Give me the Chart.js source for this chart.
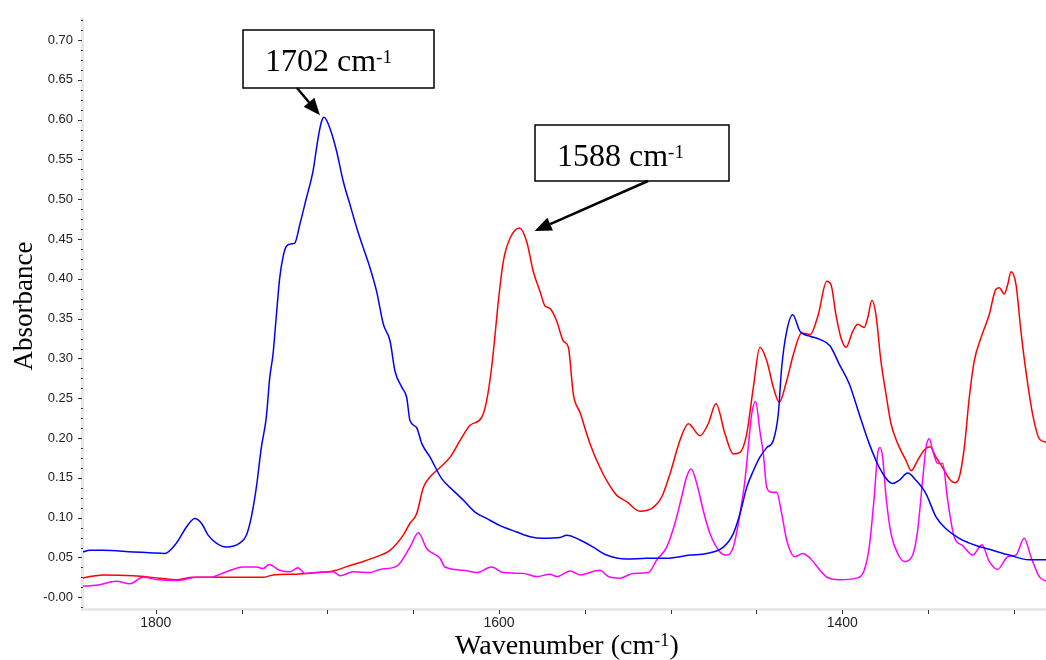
<!DOCTYPE html>
<html>
<head>
<meta charset="utf-8">
<script src="https://cdn.jsdelivr.net/npm/chart.js@4.4.1/dist/chart.umd.min.js"></script>
<style>
  html, body { margin: 0; padding: 0; background: #ffffff; }
  #wrap { width: 1046px; height: 660px; position: relative; }
</style>
</head>
<body>
<div id="wrap"><canvas id="spectrum" width="1046" height="660"></canvas></div>
<script>
// IR spectra: [wavenumber (cm-1), absorbance]
const blueSpectrum = [
  [1842.4,0.057],[1838.5,0.059],[1830.7,0.059],[1813.2,0.057],[1803.5,0.056],[1794.8,0.055],
  [1788.0,0.068],[1782.2,0.088],[1777.3,0.099],[1773.4,0.093],[1769.5,0.078],[1764.7,0.068],
  [1758.9,0.063],[1751.1,0.068],[1747.2,0.078],[1744.3,0.101],[1741.4,0.138],[1738.5,0.188],
  [1735.6,0.226],[1733.6,0.276],[1731.7,0.305],[1729.7,0.355],[1727.8,0.401],[1725.8,0.428],
  [1723.9,0.441],[1721.0,0.444],[1719.0,0.445],[1716.1,0.468],[1712.3,0.501],[1708.4,0.535],
  [1705.5,0.576],[1703.5,0.597],[1702.0,0.603],[1697.7,0.584],[1694.6,0.560],[1690.7,0.522],
  [1686.8,0.493],[1682.9,0.464],[1679.1,0.439],[1675.2,0.414],[1671.3,0.384],[1667.4,0.343],
  [1663.5,0.322],[1660.6,0.284],[1656.7,0.264],[1653.8,0.251],[1651.9,0.222],[1648.0,0.213],
  [1645.0,0.193],[1640.2,0.176],[1633.4,0.149],[1626.6,0.134],[1620.8,0.122],[1614.0,0.107],
  [1607.2,0.099],[1599.4,0.090],[1589.7,0.082],[1581.9,0.076],[1574.2,0.074],[1564.5,0.075],
  [1560.6,0.078],[1552.8,0.072],[1545.1,0.063],[1537.3,0.053],[1525.6,0.048],[1514.0,0.049],
  [1502.3,0.049],[1488.7,0.053],[1479.0,0.055],[1469.3,0.063],[1463.5,0.080],[1459.6,0.105],
  [1455.7,0.138],[1451.8,0.159],[1448.0,0.176],[1444.0,0.188],[1440.2,0.197],[1437.3,0.230],
  [1435.3,0.289],[1432.4,0.334],[1428.9,0.355],[1424.6,0.334],[1418.8,0.328],[1413.0,0.324],
  [1407.2,0.316],[1401.8,0.293],[1395.9,0.268],[1390.1,0.230],[1384.3,0.193],[1378.4,0.163],
  [1370.6,0.143],[1366.8,0.147],[1361.9,0.156],[1357.1,0.147],[1351.2,0.130],[1345.4,0.101],
  [1339.6,0.086],[1331.8,0.074],[1322.1,0.065],[1312.4,0.059],[1302.7,0.053],[1291.1,0.047],
  [1281.3,0.047]
];

const redSpectrum = [
  [1842.4,0.024],[1838.5,0.026],[1830.7,0.028],[1813.2,0.027],[1797.7,0.024],[1788.0,0.022],
  [1778.3,0.025],[1764.7,0.025],[1749.1,0.025],[1737.5,0.025],[1731.7,0.028],[1718.1,0.029],
  [1706.4,0.031],[1696.7,0.033],[1686.8,0.040],[1679.1,0.045],[1671.3,0.051],[1663.5,0.059],
  [1655.8,0.078],[1651.9,0.093],[1648.0,0.105],[1644.1,0.138],[1640.2,0.151],[1634.4,0.163],
  [1628.5,0.176],[1622.7,0.197],[1616.9,0.216],[1610.1,0.226],[1607.2,0.247],[1604.3,0.289],
  [1602.3,0.330],[1600.4,0.372],[1597.5,0.422],[1593.6,0.451],[1588.0,0.464],[1583.9,0.447],
  [1580.0,0.409],[1576.1,0.384],[1573.2,0.366],[1570.3,0.363],[1566.4,0.347],[1562.5,0.322],
  [1559.6,0.314],[1556.7,0.255],[1552.8,0.232],[1547.0,0.193],[1541.2,0.163],[1536.3,0.143],
  [1531.4,0.128],[1525.6,0.120],[1517.9,0.108],[1510.1,0.113],[1505.2,0.126],[1500.4,0.155],
  [1494.6,0.197],[1489.7,0.218],[1482.9,0.203],[1478.1,0.218],[1473.6,0.243],[1468.3,0.205],
  [1463.5,0.180],[1459.6,0.182],[1455.7,0.205],[1451.8,0.264],[1448.0,0.314],[1444.0,0.297],
  [1440.2,0.264],[1436.7,0.245],[1432.4,0.272],[1428.5,0.305],[1423.7,0.332],[1418.8,0.330],
  [1414.0,0.355],[1409.1,0.397],[1406.6,0.393],[1403.7,0.355],[1400.8,0.326],[1397.8,0.314],
  [1393.9,0.334],[1391.0,0.343],[1387.2,0.339],[1385.2,0.351],[1382.7,0.373],[1380.4,0.355],
  [1377.5,0.297],[1374.5,0.255],[1371.6,0.218],[1367.7,0.193],[1362.9,0.172],[1359.8,0.159],
  [1356.1,0.172],[1352.2,0.185],[1348.9,0.189],[1345.4,0.176],[1341.5,0.163],[1337.7,0.149],
  [1334.2,0.144],[1331.8,0.151],[1328.9,0.188],[1326.0,0.251],[1323.1,0.297],[1319.2,0.326],
  [1314.4,0.355],[1310.5,0.387],[1308.5,0.389],[1305.6,0.381],[1303.6,0.393],[1301.7,0.409],
  [1298.8,0.393],[1295.9,0.334],[1293.0,0.284],[1289.1,0.230],[1285.2,0.199],[1281.3,0.195]
];

const magentaSpectrum = [
  [1842.4,0.014],[1834.6,0.015],[1823.0,0.020],[1815.1,0.017],[1807.4,0.025],[1798.7,0.022],
  [1788.0,0.021],[1776.3,0.025],[1768.5,0.025],[1758.9,0.032],[1749.1,0.038],[1741.4,0.038],
  [1737.5,0.036],[1734.0,0.041],[1727.8,0.034],[1721.9,0.032],[1717.1,0.037],[1713.2,0.030],
  [1706.4,0.031],[1696.7,0.032],[1692.6,0.027],[1684.9,0.032],[1675.2,0.031],[1669.3,0.035],
  [1659.6,0.039],[1651.9,0.063],[1647.0,0.081],[1642.1,0.061],[1634.4,0.049],[1631.5,0.038],
  [1620.8,0.034],[1613.0,0.031],[1604.3,0.038],[1597.5,0.031],[1585.8,0.030],[1578.0,0.026],
  [1570.3,0.029],[1566.4,0.026],[1558.6,0.033],[1552.8,0.028],[1541.2,0.034],[1536.3,0.026],
  [1529.5,0.024],[1521.8,0.030],[1513.0,0.031],[1508.1,0.047],[1502.3,0.063],[1497.5,0.093],
  [1493.6,0.126],[1490.7,0.151],[1488.1,0.161],[1484.8,0.143],[1481.0,0.109],[1477.1,0.080],
  [1471.3,0.057],[1467.3,0.053],[1463.5,0.063],[1459.6,0.105],[1456.7,0.147],[1454.8,0.188],
  [1452.8,0.230],[1450.5,0.246],[1448.0,0.209],[1446.0,0.180],[1444.0,0.138],[1441.1,0.132],
  [1438.2,0.132],[1435.3,0.105],[1432.4,0.072],[1427.6,0.051],[1423.1,0.055],[1418.8,0.049],
  [1413.0,0.034],[1409.5,0.026],[1401.8,0.022],[1392.0,0.024],[1387.2,0.034],[1384.3,0.063],
  [1381.4,0.126],[1379.4,0.180],[1378.0,0.188],[1376.5,0.176],[1374.5,0.126],[1371.6,0.080],
  [1367.7,0.055],[1363.9,0.045],[1359.0,0.053],[1356.1,0.084],[1353.2,0.147],[1351.2,0.188],
  [1349.3,0.199],[1347.3,0.184],[1344.4,0.168],[1341.5,0.168],[1338.6,0.122],[1334.8,0.076],
  [1329.9,0.065],[1324.0,0.053],[1318.6,0.066],[1314.4,0.045],[1309.5,0.035],[1303.6,0.051],
  [1298.8,0.053],[1294.0,0.074],[1290.1,0.051],[1285.2,0.026],[1281.3,0.020]
];

// Axis ticks
const xTickValues = [1800, 1600, 1400];
const xTickLabels = ['1800', '1600', '1400'];
const xMinorTickValues = [1800, 1750, 1700, 1650, 1600, 1550, 1500, 1450, 1400, 1350, 1300];
const yTickValues = [0, 0.05, 0.10, 0.15, 0.20, 0.25, 0.30, 0.35, 0.40, 0.45, 0.50, 0.55, 0.60, 0.65, 0.70];
const yTickLabels = ['-0.00', '0.05', '0.10', '0.15', '0.20', '0.25', '0.30', '0.35', '0.40', '0.45', '0.50', '0.55', '0.60', '0.65', '0.70'];
const yMinorStep = 0.0125;

// Peak call-outs
const peakWavenumbers = [1702, 1588];
const peakLabels = ['1702', '1588'];

const SERIF = '"Liberation Serif", "Times New Roman", serif';
const SANS = '"Liberation Sans", Arial, sans-serif';

// Call-out boxes (pixels) and where each arrow leaves its box / lands next to its peak
const calloutLayout = [
  { box: [243, 30, 191, 58], textX: 265, baseline: 70.7, from: [297, 88], tipOffset: [-4, -2], series: 'blue' },
  { box: [535, 125, 194, 56], textX: 557, baseline: 166, from: [648, 181], tipOffset: [15, 3], series: 'red' }
];
const seriesByName = { blue: blueSpectrum, red: redSpectrum, magenta: magentaSpectrum };

const toPoints = s => s.map(([x, y]) => ({ x, y }));

function peakAbsorbance(series, wn) {
  let best = -Infinity;
  series.forEach(([x, y]) => { if (Math.abs(x - wn) <= 4 && y > best) best = y; });
  return best;
}

function drawSupText(ctx, pieces, x, baseline, size, supScale, supRaise) {
  let cx = x;
  pieces.forEach(p => {
    const fs = p.sup ? size * supScale : size;
    ctx.font = fs + 'px ' + SERIF;
    const dy = p.sup ? size * supRaise : 0;
    ctx.fillText(p.t, cx, baseline - dy);
    cx += ctx.measureText(p.t).width + (p.sup ? 0.5 : 0);
  });
  return cx - x;
}

function measureSupText(ctx, pieces, size, supScale) {
  let w = 0;
  pieces.forEach(p => {
    ctx.font = (p.sup ? size * supScale : size) + 'px ' + SERIF;
    w += ctx.measureText(p.t).width + (p.sup ? 0.5 : 0);
  });
  return w;
}

function drawArrow(ctx, x0, y0, x1, y1, head, half) {
  const ang = Math.atan2(y1 - y0, x1 - x0);
  const bx = x1 - head * Math.cos(ang), by = y1 - head * Math.sin(ang);
  ctx.beginPath();
  ctx.moveTo(x0, y0);
  ctx.lineTo(bx, by);
  ctx.lineWidth = 2.5;
  ctx.stroke();
  ctx.beginPath();
  ctx.moveTo(x1, y1);
  ctx.lineTo(bx + half * Math.sin(ang), by - half * Math.cos(ang));
  ctx.lineTo(bx - half * Math.sin(ang), by + half * Math.cos(ang));
  ctx.closePath();
  ctx.fill();
}

const decorations = {
  id: 'decorations',
  beforeDatasetsDraw(chart) {
    const { ctx, chartArea: a, scales: { x, y } } = chart;
    ctx.save();
    // light axis bands
    ctx.fillStyle = '#e8e8e8';
    ctx.fillRect(a.left - 2, a.top, 3, a.bottom - a.top + 3);
    ctx.fillRect(a.left - 2, a.bottom, a.right - a.left + 2, 3);
    // y ticks
    ctx.fillStyle = '#333333';
    yTickValues.forEach(v => {
      const py = Math.round(y.getPixelForValue(v));
      ctx.fillRect(a.left - 5, py, 4, 1);
    });
    for (let k = -1; k * yMinorStep <= y.max; k++) {
      if (k % 4 === 0) continue;
      const py = Math.round(y.getPixelForValue(k * yMinorStep));
      if (py < a.top || py > a.bottom) continue;
      ctx.fillRect(a.left - 2, py, 2, 1);
    }
    // x ticks
    xMinorTickValues.forEach(w => {
      const px = Math.round(x.getPixelForValue(w));
      ctx.fillRect(px, a.bottom + 2, 1, 4);
    });
    ctx.restore();
  },
  afterDraw(chart) {
    const { ctx, chartArea: a, scales: { x, y } } = chart;
    ctx.save();
    ctx.fillStyle = '#000000';
    ctx.strokeStyle = '#000000';
    ctx.textBaseline = 'alphabetic';
    ctx.textAlign = 'left';

    // y axis title
    ctx.save();
    ctx.translate(32, 306);
    ctx.rotate(-Math.PI / 2);
    ctx.font = '27px ' + SERIF;
    ctx.textAlign = 'center';
    ctx.fillText('Absorbance', 0, 0);
    ctx.restore();

    // x axis title with superscript unit
    const xTitle = [{ t: 'Wavenumber (cm' }, { t: '-1', sup: true }, { t: ')' }];
    const tw = measureSupText(ctx, xTitle, 28, 0.64);
    drawSupText(ctx, xTitle, 567 - tw / 2, 654, 28, 0.64, 0.29);

    // call-outs
    calloutLayout.forEach((c, i) => {
      const [bx, by, bw, bh] = c.box;
      ctx.fillStyle = '#ffffff';
      ctx.fillRect(bx, by, bw, bh);
      ctx.lineWidth = 1.5;
      ctx.strokeRect(bx, by, bw, bh);
      ctx.fillStyle = '#000000';
      drawSupText(ctx, [{ t: peakLabels[i] + ' cm' }, { t: '-1', sup: true }], c.textX, c.baseline, 32, 0.6, 0.24);
      const series = seriesByName[c.series];
      const px = x.getPixelForValue(peakWavenumbers[i]) + c.tipOffset[0];
      const py = y.getPixelForValue(peakAbsorbance(series, peakWavenumbers[i])) + c.tipOffset[1];
      drawArrow(ctx, c.from[0], c.from[1], px, py, 17, 7);
    });
    ctx.restore();
  }
};

const lineStyle = { pointRadius: 0, borderWidth: 1.5, cubicInterpolationMode: 'monotone', fill: false, borderJoinStyle: 'round' };

new Chart(document.getElementById('spectrum'), {
  type: 'line',
  data: {
    datasets: [
      Object.assign({ label: 'Red', data: toPoints(redSpectrum), borderColor: '#ff0000', order: 3 }, lineStyle),
      Object.assign({ label: 'Magenta', data: toPoints(magentaSpectrum), borderColor: '#ff00ff', order: 2 }, lineStyle),
      Object.assign({ label: 'Blue', data: toPoints(blueSpectrum), borderColor: '#0000ff', order: 1 }, lineStyle)
    ]
  },
  options: {
    responsive: false,
    animation: false,
    devicePixelRatio: 1,
    layout: { padding: { top: 15, left: 0, right: 0, bottom: 0 } },
    plugins: { legend: { display: false }, tooltip: { enabled: false } },
    scales: {
      x: {
        type: 'linear',
        reverse: true,
        min: 1281.3,
        max: 1842.4,
        afterBuildTicks: s => { s.ticks = xTickValues.map(v => ({ value: v })); },
        afterFit: s => { s.height = 52; },
        grid: { display: false, drawTicks: false },
        border: { display: false },
        ticks: {
          callback: (v, i) => xTickLabels[i],
          font: { family: SANS, size: 14 },
          color: '#222222',
          padding: 7,
          maxRotation: 0,
          autoSkip: false
        }
      },
      y: {
        min: -0.0135,
        max: 0.728,
        afterBuildTicks: s => { s.ticks = yTickValues.map(v => ({ value: v })); },
        afterFit: s => { s.width = 83; },
        grid: { display: false, drawTicks: false },
        border: { display: false },
        ticks: {
          callback: (v, i) => yTickLabels[i],
          font: { family: SANS, size: 13 },
          color: '#222222',
          padding: 10,
          autoSkip: false
        }
      }
    }
  },
  plugins: [decorations]
});
</script>
</body>
</html>
